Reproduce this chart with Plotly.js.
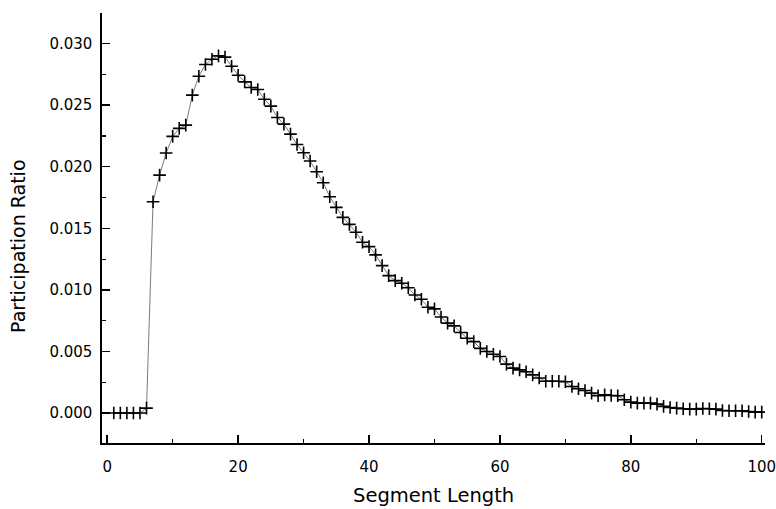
<!DOCTYPE html>
<html>
<head>
<meta charset="utf-8">
<script src="https://cdn.plot.ly/plotly-3.0.1.min.js"></script>
<style>html,body{margin:0;padding:0;background:#fff;}#chart{width:776px;height:509px;}</style>
</head>
<body>
<div id="chart"></div>
<script>
var segmentLength = [1,2,3,4,5,6,7,8,9,10,11,12,13,14,15,16,17,18,19,20,
21,22,23,24,25,26,27,28,29,30,31,32,33,34,35,36,37,38,39,40,
41,42,43,44,45,46,47,48,49,50,51,52,53,54,55,56,57,58,59,60,
61,62,63,64,65,66,67,68,69,70,71,72,73,74,75,76,77,78,79,80,
81,82,83,84,85,86,87,88,89,90,91,92,93,94,95,96,97,98,99,100];

var participationRatio = [0,0,0,0,0,0.0004,0.01716,0.01932,0.02111,0.02246,
0.02311,0.02338,0.02581,0.02735,0.0283,0.02873,0.0290,0.0289,0.02816,0.02743,
0.02689,0.02643,0.02627,0.02548,0.02492,0.0240,0.02346,0.02265,0.02181,0.02113,
0.02046,0.01959,0.0187,0.01756,0.0167,0.01589,0.01532,0.01468,0.01387,0.01351,
0.01284,0.01197,0.01116,0.01075,0.01054,0.01018,0.00959,0.00924,0.00859,0.00846,
0.0078,0.0073,0.00708,0.00654,0.00608,0.0058,0.00525,0.0050,0.00478,0.00459,
0.00397,0.00365,0.00351,0.00336,0.0031,0.00285,0.00258,0.00258,0.00258,0.00254,
0.00216,0.00197,0.00183,0.00162,0.0014,0.00148,0.00143,0.0014,0.00108,0.00089,
0.00081,0.00081,0.00081,0.00073,0.00054,0.00045,0.0004,0.00035,0.00032,0.00032,
0.00037,0.00035,0.00032,0.00021,0.00019,0.00019,0.00019,0.00013,0.00008,0.00008];

var xTitle = "Segment Length";
var yTitle = "Participation Ratio";

var font = "DejaVu Sans, sans-serif";

var trace = {
  x: segmentLength,
  y: participationRatio,
  type: 'scatter',
  mode: 'lines+markers',
  line: {color: '#222', width: 0.6},
  marker: {symbol: 'cross-thin', size: 9, color: '#000', line: {color: '#000', width: 1.6}},
  hoverinfo: 'skip'
};

var layout = {
  width: 776, height: 509,
  margin: {l: 102, r: 11, t: 13, b: 66, pad: 0},
  paper_bgcolor: '#fff', plot_bgcolor: '#fff',
  showlegend: false,
  font: {family: font, color: '#000', size: 14},
  xaxis: {
    range: [-0.8, 100.5],
    tickmode: 'linear', tick0: 0, dtick: 20,
    ticks: 'inside', ticklen: 8, tickwidth: 1.5, tickcolor: '#000',
    minor: {tickmode: 'linear', tick0: 0, dtick: 10, ticks: 'inside', ticklen: 4, tickwidth: 1.2, tickcolor: '#000'},
    showline: true, linecolor: '#000', linewidth: 1.6,
    showgrid: false, zeroline: false, mirror: false,
    ticklabelstandoff: 9,
    ticklabeloverflow: 'allow',
    tickfont: {family: font, size: 15, color: '#000'}
  },
  yaxis: {
    range: [-0.00243, 0.03248],
    tickmode: 'linear', tick0: 0, dtick: 0.005, tickformat: '.3f',
    ticks: 'inside', ticklen: 8, tickwidth: 1.5, tickcolor: '#000',
    minor: {tickmode: 'linear', tick0: 0, dtick: 0.0025, ticks: 'inside', ticklen: 4, tickwidth: 1.2, tickcolor: '#000'},
    showline: true, linecolor: '#000', linewidth: 1.6,
    showgrid: false, zeroline: false, mirror: false,
    ticklabelstandoff: 5,
    ticklabeloverflow: 'allow',
    tickfont: {family: font, size: 15, color: '#000'}
  },
  annotations: [
    {text: xTitle, xref: 'paper', yref: 'paper', x: 0.5, y: 0, xanchor: 'center', yanchor: 'middle',
     yshift: -52, showarrow: false, font: {family: font, size: 19.5, color: '#000'}},
    {text: yTitle, xref: 'paper', yref: 'paper', x: 0, y: 0.456, xanchor: 'center', yanchor: 'middle',
     xshift: -84, textangle: -90, showarrow: false, font: {family: font, size: 19, color: '#000'}}
  ]
};

Plotly.newPlot('chart', [trace], layout, {displayModeBar: false, staticPlot: true});
</script>
</body>
</html>
